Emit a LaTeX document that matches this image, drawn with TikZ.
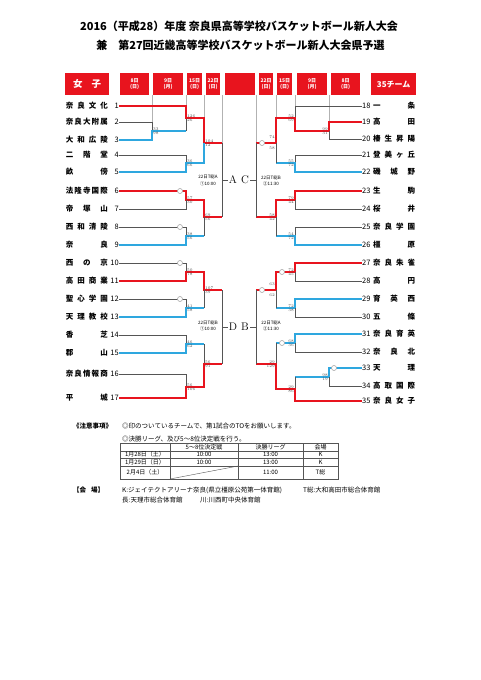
\documentclass[tikz,border=0pt]{standalone}
\usepackage{fontspec}
\usepackage{tikz}
\usetikzlibrary{positioning}
\newfontfamily\jp{Noto Sans CJK JP}
\definecolor{kred}{HTML}{E8141E}
\definecolor{kblue}{HTML}{2EA7DF}
\definecolor{kgray}{HTML}{555555}
\newcommand{\team}[1]{\makebox[42pt][s]{#1}}
\newcommand{\tnl}[1]{\makebox[9pt][r]{\mdseries #1}}
\newcommand{\tnr}[1]{\makebox[9pt][l]{\mdseries #1}}
\begin{document}
\begin{tikzpicture}
[
    x=1pt, y=-1pt,
    rd/.style={draw=kred, line width=1.3pt},
    bl/.style={draw=kblue, line width=1.3pt},
    gr/.style={draw=kgray, line width=0.9pt},
    guide/.style={draw=black!30, line width=0.5pt},
    hd/.style={fill=kred, text=white, inner sep=0, minimum height=22pt, anchor=north west, align=center, font=\jp\bfseries\fontsize{5}{6}\selectfont},
    teamL/.style={anchor=east, inner sep=0, font=\jp\bfseries\fontsize{7.5}{8}\selectfont},
    teamR/.style={anchor=west, inner sep=0, font=\jp\bfseries\fontsize{7.5}{8}\selectfont},
    score/.style={inner sep=0, text=black!70, font=\fontsize{4}{4}\selectfont},
    tomark/.style={circle, draw=black!35, fill=white, line width=0.6pt, minimum size=5pt, inner sep=0},
    blk/.style={inner sep=1pt, font=\fontsize{11}{11}\selectfont},
    game/.style={inner sep=0, align=center, font=\jp\fontsize{4.5}{6.5}\selectfont},
    nt/.style={inner sep=0, anchor=west, font=\jp\fontsize{6.5}{7}\selectfont},
    cell/.style={inner sep=0, font=\jp\fontsize{6}{6}\selectfont},
    tbl/.style={draw=kgray, line width=0.4pt},
]
\useasboundingbox (0,0) rectangle (481,680);

% title
\node[inner sep=0, font=\jp\bfseries\fontsize{11}{11}\selectfont] (ttl1) at (239,26.5) {2016（平成28）年度 奈良県高等学校バスケットボール新人大会};
\node[inner sep=0, font=\jp\bfseries\fontsize{11}{11}\selectfont] (ttl2) at (240.5,45) {兼　第27回近畿高等学校バスケットボール新人大会県予選};

% header
\node[hd, minimum width=44pt, font=\jp\bfseries\fontsize{9.5}{10}\selectfont] (hG) at (65,73) {女\hspace{9pt}子};
\node[hd, minimum width=29pt] (h8L) at (120,73) {8日\\(日)};
\node[hd, minimum width=30pt] (h9L) at (153,73) {9日\\(月)};
\node[hd, minimum width=15pt] (h15L) at (187,73) {15日\\(日)};
\node[hd, minimum width=14pt] (h22L) at (206,73) {22日\\(日)};
\node[hd, minimum width=30pt] (hC) at (225,73) {};
\node[hd, minimum width=14pt] (h22R) at (259,73) {22日\\(日)};
\node[hd, minimum width=15pt] (h15R) at (277,73) {15日\\(日)};
\node[hd, minimum width=30pt] (h9R) at (297,73) {9日\\(月)};
\node[hd, minimum width=29pt] (h8R) at (331,73) {8日\\(日)};
\node[hd, minimum width=45pt, font=\jp\bfseries\fontsize{8}{8}\selectfont] (hN) at (371,73) {35チーム};

% teams, left
\node[teamL] (t1) at (119,106) {\team{奈\hfill 良\hfill 文\hfill 化}\hspace{2pt}\tnl{1}};
\node[teamL] (t2) at (119,122) {\team{奈\hfill 良\hfill 大\hfill 附\hfill 属}\hspace{2pt}\tnl{2}};
\node[teamL] (t3) at (119,140) {\team{大\hfill 和\hfill 広\hfill 陵}\hspace{2pt}\tnl{3}};
\node[teamL] (t4) at (119,155) {\team{二\hfill 階\hfill 堂}\hspace{2pt}\tnl{4}};
\node[teamL] (t5) at (119,172) {\team{畝\hfill 傍}\hspace{2pt}\tnl{5}};
\node[teamL] (t6) at (119,191) {\team{法\hfill 隆\hfill 寺\hfill 国\hfill 際}\hspace{2pt}\tnl{6}};
\node[teamL] (t7) at (119,209) {\team{帝\hfill 塚\hfill 山}\hspace{2pt}\tnl{7}};
\node[teamL] (t8) at (119,227) {\team{西\hfill 和\hfill 清\hfill 陵}\hspace{2pt}\tnl{8}};
\node[teamL] (t9) at (119,245) {\team{奈\hfill 良}\hspace{2pt}\tnl{9}};
\node[teamL] (t10) at (119,263) {\team{西\hfill の\hfill 京}\hspace{2pt}\tnl{10}};
\node[teamL] (t11) at (119,281) {\team{高\hfill 田\hfill 商\hfill 業}\hspace{2pt}\tnl{11}};
\node[teamL] (t12) at (119,299) {\team{聖\hfill 心\hfill 学\hfill 園}\hspace{2pt}\tnl{12}};
\node[teamL] (t13) at (119,317) {\team{天\hfill 理\hfill 教\hfill 校}\hspace{2pt}\tnl{13}};
\node[teamL] (t14) at (119,335) {\team{香\hfill 芝}\hspace{2pt}\tnl{14}};
\node[teamL] (t15) at (119,353) {\team{郡\hfill 山}\hspace{2pt}\tnl{15}};
\node[teamL] (t16) at (119,374) {\team{奈\hfill 良\hfill 情\hfill 報\hfill 商}\hspace{2pt}\tnl{16}};
\node[teamL] (t17) at (119,398) {\team{平\hfill 城}\hspace{2pt}\tnl{17}};

% teams, right
\node[teamR] (t18) at (362,106) {\tnr{18}\hspace{2pt}\team{一\hfill 条}};
\node[teamR] (t19) at (362,122) {\tnr{19}\hspace{2pt}\team{高\hfill 田}};
\node[teamR] (t20) at (362,139) {\tnr{20}\hspace{2pt}\team{榛\hfill 生\hfill 昇\hfill 陽}};
\node[teamR] (t21) at (362,155) {\tnr{21}\hspace{2pt}\team{登\hfill 美\hfill ヶ\hfill 丘}};
\node[teamR] (t22) at (362,172) {\tnr{22}\hspace{2pt}\team{磯\hfill 城\hfill 野}};
\node[teamR] (t23) at (362,191) {\tnr{23}\hspace{2pt}\team{生\hfill 駒}};
\node[teamR] (t24) at (362,209) {\tnr{24}\hspace{2pt}\team{桜\hfill 井}};
\node[teamR] (t25) at (362,227) {\tnr{25}\hspace{2pt}\team{奈\hfill 良\hfill 学\hfill 園}};
\node[teamR] (t26) at (362,245) {\tnr{26}\hspace{2pt}\team{橿\hfill 原}};
\node[teamR] (t27) at (362,263) {\tnr{27}\hspace{2pt}\team{奈\hfill 良\hfill 朱\hfill 雀}};
\node[teamR] (t28) at (362,281) {\tnr{28}\hspace{2pt}\team{高\hfill 円}};
\node[teamR] (t29) at (362,299) {\tnr{29}\hspace{2pt}\team{育\hfill 英\hfill 西}};
\node[teamR] (t30) at (362,317) {\tnr{30}\hspace{2pt}\team{五\hfill 條}};
\node[teamR] (t31) at (362,334) {\tnr{31}\hspace{2pt}\team{奈\hfill 良\hfill 育\hfill 英}};
\node[teamR] (t32) at (362,352) {\tnr{32}\hspace{2pt}\team{奈\hfill 良\hfill 北}};
\node[teamR] (t33) at (362,368) {\tnr{33}\hspace{2pt}\team{天\hfill 理}};
\node[teamR] (t34) at (362,386) {\tnr{34}\hspace{2pt}\team{高\hfill 取\hfill 国\hfill 際}};
\node[teamR] (t35) at (362,401) {\tnr{35}\hspace{2pt}\team{奈\hfill 良\hfill 女\hfill 子}};

% junctions
\coordinate (j1) at (152,131);
\coordinate (j2) at (186,118);
\coordinate (j3) at (186,163);
\coordinate (j4) at (204,143);
\coordinate (j5) at (186,200);
\coordinate (j6) at (186,236);
\coordinate (j7) at (204,217);
\coordinate (j8) at (186,272);
\coordinate (j9) at (186,308);
\coordinate (j10) at (204,290);
\coordinate (j11) at (186,344);
\coordinate (j12) at (186,387);
\coordinate (j13) at (204,364);
\coordinate (a1) at (222,143);
\coordinate (a2) at (222,217);
\coordinate (am) at (222,180);
\coordinate (d1) at (222,290);
\coordinate (d2) at (222,364);
\coordinate (dm) at (222,327);
\coordinate (k1) at (329,131);
\coordinate (k2) at (295,118);
\coordinate (k3) at (295,163);
\coordinate (k4) at (276,143);
\coordinate (k5) at (295,200);
\coordinate (k6) at (295,236);
\coordinate (k7) at (276,217);
\coordinate (k8) at (295,272);
\coordinate (k9) at (295,308);
\coordinate (k10) at (276,290);
\coordinate (k11) at (295,343);
\coordinate (k12) at (329,377);
\coordinate (k13) at (295,389);
\coordinate (k14) at (276,364);
\coordinate (c1) at (256,143);
\coordinate (c2) at (256,217);
\coordinate (cm) at (256,180);
\coordinate (b1) at (256,290);
\coordinate (b2) at (256,364);
\coordinate (bm) at (256,327);

% guide lines from the day boxes
\draw[guide] (j1 |- h9L.south) -- (j1 |- t2.east);
\draw[guide] (j2 |- h9L.south) -- (j2 |- t1.east);
\draw[guide] (j4 |- h9L.south) -- (j4 |- j2);
\draw[guide] (a1 |- h9L.south) -- (a1);
\draw[guide] (c1 |- h9R.south) -- (c1);
\draw[guide] (k4 |- h9R.south) -- (k4 |- k2);
\draw[guide] (k2 |- h9R.south) -- (k2 |- t18.west);
\draw[guide] (k1 |- h9R.south) -- (k1 |- t19.west);

% A block
\draw[gr] (t2.east) -| (j1);
\draw[bl] (t3.east) -| (j1) -- (j1 -| j2);
\draw[gr] (j1 -| j2) -- (j2);
\draw[rd] (t1.east) -| (j2) -| (j4) -- (a1);
\draw[gr] (t4.east) -| (j3);
\draw[bl] (t5.east) -| (j3) -| (j4);
\draw[rd] (t6.east) -| (j5) -| (j7) -- (a2);
\draw[gr] (t7.east) -| (j5);
\draw[gr] (t8.east) -| (j6);
\draw[bl] (t9.east) -| (j6) -- (j6 -| j7);
\draw[gr] (j6 -| j7) -- (j7);
\draw[gr] (a1) -- (a2);

% D block
\draw[gr] (t10.east) -| (j8);
\draw[rd] (t11.east) -| (j8) -| (j10) -- (d1);
\draw[gr] (t12.east) -| (j9);
\draw[bl] (t13.east) -| (j9) -- (j9 -| j10);
\draw[gr] (j9 -| j10) -- (j10);
\draw[gr] (t14.east) -| (j11);
\draw[bl] (t15.east) -| (j11) -- (j11 -| j13);
\draw[gr] (j11 -| j13) -- (j13);
\draw[gr] (t16.east) -| (j12);
\draw[rd] (t17.east) -| (j12) -| (j13) -- (d2);
\draw[gr] (d1) -- (d2);

% C block
\draw[gr] (t18.west) -| (k2);
\draw[rd] (t19.west) -| (k1) -| (k2) -| (k4) -- (c1);
\draw[gr] (t20.west) -| (k1);
\draw[gr] (t21.west) -| (k3);
\draw[bl] (t22.west) -| (k3) -- (k3 -| k4);
\draw[gr] (k3 -| k4) -- (k4);
\draw[rd] (t23.west) -| (k5) -| (k7) -- (c2);
\draw[gr] (t24.west) -| (k5);
\draw[gr] (t25.west) -| (k6);
\draw[bl] (t26.west) -| (k6) -- (k6 -| k7);
\draw[gr] (k6 -| k7) -- (k7);
\draw[gr] (c1) -- (c2);

% B block
\draw[rd] (t27.west) -| (k8) -| (k10) -- (b1);
\draw[gr] (t28.west) -| (k8);
\draw[bl] (t29.west) -| (k9) -- (k9 -| k10);
\draw[gr] (k9 -| k10) -- (k10);
\draw[gr] (t30.west) -| (k9);
\draw[bl] (t31.west) -| (k11) -- (k11 -| k14);
\draw[gr] (k11 -| k14) -- (k14);
\draw[gr] (t32.west) -| (k11);
\draw[bl] (t33.west) -| (k12) -- (k12 -| k13);
\draw[gr] (k12 -| k13) -- (k13);
\draw[gr] (t34.west) -| (k12);
\draw[rd] (t35.west) -| (k13) -| (k14) -- (b2);
\draw[gr] (b1) -- (b2);

% TO marks
\node[tomark] (m6) at (180,191) {};
\node[tomark] (m8) at (180,227) {};
\node[tomark] (m10) at (180,263) {};
\node[tomark] (m12) at (180,299) {};
\node[tomark] (mk4) at (262,143) {};
\node[tomark] (mk8) at (282,272) {};
\node[tomark] (mk10) at (262,290) {};
\node[tomark] (mk11) at (282,343) {};
\node[tomark] (m33) at (334,368) {};

% scores, left
\node[score, above right=0.7pt and 1pt of j1] {33};
\node[score, below right=0.7pt and 1pt of j1] {98};
\node[score, above right=0.7pt and 1pt of j2] {126};
\node[score, below right=0.7pt and 1pt of j2] {26};
\node[score, above right=0.7pt and 1pt of j3] {36};
\node[score, below right=0.7pt and 1pt of j3] {66};
\node[score, above right=0.7pt and 1pt of j4] {104};
\node[score, below right=0.7pt and 1pt of j4] {12};
\node[score, above right=0.7pt and 1pt of j5] {57};
\node[score, below right=0.7pt and 1pt of j5] {30};
\node[score, above right=0.7pt and 1pt of j6] {38};
\node[score, below right=0.7pt and 1pt of j6] {56};
\node[score, above right=0.7pt and 1pt of j7] {69};
\node[score, below right=0.7pt and 1pt of j7] {56};
\node[score, above right=0.7pt and 1pt of j8] {50};
\node[score, below right=0.7pt and 1pt of j8] {78};
\node[score, above right=0.7pt and 1pt of j9] {41};
\node[score, below right=0.7pt and 1pt of j9] {58};
\node[score, above right=0.7pt and 1pt of j10] {107};
\node[score, below right=0.7pt and 1pt of j10] {39};
\node[score, above right=0.7pt and 1pt of j11] {46};
\node[score, below right=0.7pt and 1pt of j11] {62};
\node[score, above right=0.7pt and 1pt of j12] {56};
\node[score, below right=0.7pt and 1pt of j12] {106};
\node[score, above right=0.7pt and 1pt of j13] {56};
\node[score, below right=0.7pt and 1pt of j13] {91};

% scores, right
\node[score, above left=0.7pt and 1pt of k1] {99};
\node[score, below left=0.7pt and 1pt of k1] {31};
\node[score, above left=0.7pt and 1pt of k2] {52};
\node[score, below left=0.7pt and 1pt of k2] {69};
\node[score, above left=0.7pt and 1pt of k3] {55};
\node[score, below left=0.7pt and 1pt of k3] {72};
\node[score, above left=4pt and 1pt of k4] {74};
\node[score, below left=4pt and 1pt of k4] {58};
\node[score, above left=0.7pt and 1pt of k5] {79};
\node[score, below left=0.7pt and 1pt of k5] {44};
\node[score, above left=0.7pt and 1pt of k6] {54};
\node[score, below left=0.7pt and 1pt of k6] {72};
\node[score, above left=0.7pt and 1pt of k7] {58};
\node[score, below left=0.7pt and 1pt of k7] {42};
\node[score, above left=0.7pt and 1pt of k8] {72};
\node[score, below left=0.7pt and 1pt of k8] {45};
\node[score, above left=0.7pt and 1pt of k9] {72};
\node[score, below left=0.7pt and 1pt of k9] {38};
\node[score, above left=4pt and 1pt of k10] {63};
\node[score, below left=4pt and 1pt of k10] {62};
\node[score, above left=0.7pt and 1pt of k11] {68};
\node[score, below left=0.7pt and 1pt of k11] {36};
\node[score, above left=0.7pt and 1pt of k12] {98};
\node[score, below left=0.7pt and 1pt of k12] {19};
\node[score, above left=0.7pt and 1pt of k13] {29};
\node[score, below left=0.7pt and 1pt of k13] {86};
\node[score, above left=0.7pt and 1pt of k14] {29};
\node[score, below left=0.7pt and 1pt of k14] {129};

% block letters and game notes
\node[blk] (lA) at (233,180) {A};
\draw[gr] (am) -- (lA.west);
\node[blk] (lC) at (245,180) {C};
\draw[gr] (lC.east) -- (cm);
\node[blk] (lD) at (233,327) {D};
\draw[gr] (dm) -- (lD.west);
\node[blk] (lB) at (245,327) {B};
\draw[gr] (lB.east) -- (bm);
\node[game] (gA) at (208,180.5) {22日T総A\\①10:00};
\node[game] (gC) at (271,181) {22日T総B\\②11:30};
\node[game] (gD) at (208,326) {22日T総B\\①10:00};
\node[game] (gB) at (271,326) {22日T総A\\②11:30};

% notes
\node[nt, font=\jp\bfseries\fontsize{6.5}{7}\selectfont] (n0) at (73,426) {《注意事項》};
\node[nt] (n1) at (122,426) {◎印のついているチームで、第1試合のTOをお願いします。};
\node[nt] (n2) at (122,439) {◎決勝リーグ、及び5～8位決定戦を行う。};
\draw[tbl] (120,443) rectangle (338,479);
\draw[tbl] (170,443) -- (170,479);
\draw[tbl] (238,443) -- (238,479);
\draw[tbl] (303,443) -- (303,479);
\draw[tbl] (120,451) -- (338,451);
\draw[tbl] (120,458) -- (338,458);
\draw[tbl] (120,466) -- (338,466);
\draw[tbl] (170,479) -- (238,466);
\node[cell] (c12) at (204,447) {5～8位決定戦};
\node[cell] (c13) at (270.5,447) {決勝リーグ};
\node[cell] (c14) at (320.5,447) {会場};
\node[cell] (c21) at (145,454.5) {1月28日（土）};
\node[cell] (c22) at (204,454.5) {10:00};
\node[cell] (c23) at (270.5,454.5) {13:00};
\node[cell] (c24) at (320.5,454.5) {K};
\node[cell] (c31) at (145,462) {1月29日（日）};
\node[cell] (c32) at (204,462) {10:00};
\node[cell] (c33) at (270.5,462) {13:00};
\node[cell] (c34) at (320.5,462) {K};
\node[cell] (c41) at (145,472.5) {2月4日（土）};
\node[cell] (c43) at (270.5,472.5) {11:00};
\node[cell] (c44) at (320.5,472.5) {T総};
\node[nt, font=\jp\bfseries\fontsize{6.5}{7}\selectfont] (v0) at (73,490) {【\hfill 会\hspace{5pt}場\hfill 】};
\node[nt] (v1) at (122,490) {K:ジェイテクトアリーナ奈良(県立橿原公苑第一体育館)};
\node[nt] (v2) at (303,490) {T総:大和高田市総合体育館};
\node[nt] (v3) at (122,500) {長:天理市総合体育館};
\node[nt] (v4) at (200,500) {川:川西町中央体育館};
\end{tikzpicture}
\end{document}
